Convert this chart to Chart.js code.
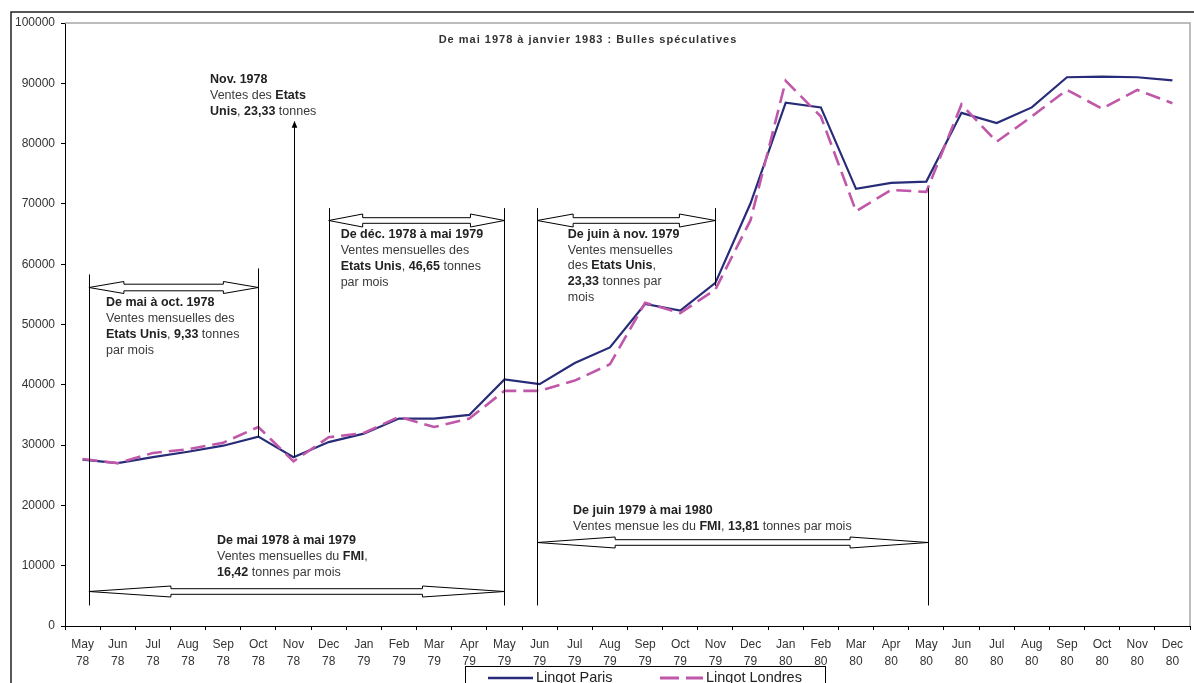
<!DOCTYPE html>
<html><head><meta charset="utf-8">
<script src="https://cdn.jsdelivr.net/npm/chart.js@4.4.1/dist/chart.umd.min.js"></script>
<style>html,body{margin:0;padding:0;background:#fff;}</style>
</head><body>
<canvas id="c" width="1194" height="683"></canvas>
<script>
// ---- data ----
const monthNames = ["May","Jun","Jul","Aug","Sep","Oct","Nov","Dec","Jan","Feb","Mar","Apr","May","Jun","Jul","Aug","Sep","Oct","Nov","Dec","Jan","Feb","Mar","Apr","May","Jun","Jul","Aug","Sep","Oct","Nov","Dec"];
const yearLabels = ["78","78","78","78","78","78","78","78","79","79","79","79","79","79","79","79","79","79","79","79","80","80","80","80","80","80","80","80","80","80","80","80"];
const parisValues = [27600,27000,28000,28900,29900,31400,28000,30500,31900,34400,34400,35000,40900,40100,43600,46200,53400,52300,56900,70100,86800,86000,72500,73500,73700,85100,83400,86000,91000,91100,91000,90500];
const londresValues = [27700,27000,28700,29300,30400,33000,27300,31300,32000,34700,33000,34400,39000,39000,40700,43400,53600,51900,55800,67300,90400,84500,68800,72300,72000,86500,80300,84500,88900,85800,88900,86700];
const seriesNames = ["Lingot Paris","Lingot Londres"];
const yMin = 0, yMax = 100000, yStep = 10000;
const chartTitle = "De mai 1978 à janvier 1983 : Bulles spéculatives";

const labels = monthNames.map((m,i)=>[m, yearLabels[i]]);

const FONT = "'Liberation Sans', Arial, sans-serif";
const TXT = '#333';
Chart.defaults.font.family = FONT;

// ---- annotations (category index, value units) ----
const vLines = [
  [0.18, 58300, 3400],
  [5, 59300, 31400],
  [7, 69300, 32100],
  [12, 69300, 3400],
  [12.93, 69300, 3400],
  [18, 69300, 56400],
  [24.05, 72600, 3400]
];
const blockArrows = [
  {a:0.18, b:5, v:56300, head:35, hh:6, sh:3.3},
  {a:7, b:12, v:67300, head:34, hh:6.5, sh:2.8},
  {a:12.93, b:18, v:67300, head:36, hh:6.5, sh:2.8},
  {a:0.18, b:12, v:5850, head:82, hh:5.5, sh:2.8},
  {a:12.93, b:24.05, v:13900, head:78, hh:5.5, sh:2.8}
];
const textBlocks = [
  {i:3.625, v:90550, lines:[[["Nov. 1978",1]],[["Ventes des ",0],["Etats",1]],[["Unis",1],[", ",0],["23,33",1],[" tonnes",0]]]},
  {i:0.666, v:53620, lines:[[["De mai à oct. 1978",1]],[["Ventes mensuelles des",0]],[["Etats Unis",1],[", ",0],["9,33",1],[" tonnes",0]],[["par mois",0]]]},
  {i:7.34, v:64840, lines:[[["De déc. 1978 à mai 1979",1]],[["Ventes mensuelles des",0]],[["Etats Unis",1],[", ",0],["46,65",1],[" tonnes",0]],[["par mois",0]]]},
  {i:13.80, v:64960, lines:[[["De juin à nov. 1979",1]],[["Ventes mensuelles",0]],[["des ",0],["Etats Unis",1],[",",0]],[["23,33",1],[" tonnes par",0]],[["mois",0]]]},
  {i:3.823, v:14100, lines:[[["De mai 1978 à mai 1979",1]],[["Ventes mensuelles du ",0],["FMI",1],[",",0]],[["16,42",1],[" tonnes par mois",0]]]},
  {i:13.95, v:19070, lines:[[["De juin 1979 à mai 1980",1]],[["Ventes mensue les du ",0],["FMI",1],[", ",0],["13,81",1],[" tonnes par mois",0]]]}
];

function drawBlockArrow(ctx, x1, x2, y, head, hh, sh){
  ctx.beginPath();
  ctx.moveTo(x1, y);
  ctx.lineTo(x1+head, y-hh);
  ctx.lineTo(x1+head, y-sh);
  ctx.lineTo(x2-head, y-sh);
  ctx.lineTo(x2-head, y-hh);
  ctx.lineTo(x2, y);
  ctx.lineTo(x2-head, y+hh);
  ctx.lineTo(x2-head, y+sh);
  ctx.lineTo(x1+head, y+sh);
  ctx.lineTo(x1+head, y+hh);
  ctx.closePath();
  ctx.fillStyle='#fff'; ctx.fill();
  ctx.strokeStyle='#000'; ctx.lineWidth=1; ctx.stroke();
}

const decor = {
  id:'decor',
  afterDraw(chart){
    const ctx = chart.ctx, xs = chart.scales.x, ys = chart.scales.y, ca = chart.chartArea;
    ctx.save();
    // plot area top/right border
    ctx.strokeStyle='#a6a6a6'; ctx.lineWidth=1.5;
    ctx.beginPath(); ctx.moveTo(ca.left, ca.top); ctx.lineTo(ca.right, ca.top); ctx.lineTo(ca.right, ca.bottom); ctx.stroke();
    // outer frame
    ctx.strokeStyle='#222'; ctx.lineWidth=1.5;
    ctx.beginPath(); ctx.moveTo(11, 700); ctx.lineTo(11, 12); ctx.lineTo(1200, 12); ctx.stroke();

    // vertical lines
    ctx.strokeStyle='#000'; ctx.lineWidth=1;
    vLines.forEach(([i,v1,v2])=>{
      const x = Math.round(xs.getPixelForValue(i))+0.5;
      ctx.beginPath(); ctx.moveTo(x, ys.getPixelForValue(v1)); ctx.lineTo(x, ys.getPixelForValue(v2)); ctx.stroke();
    });
    // Nov 78 arrow
    const xn = Math.round(xs.getPixelForValue(6))+0.5;
    const tip = ys.getPixelForValue(83800);
    ctx.beginPath(); ctx.moveTo(xn, ys.getPixelForValue(parisValues[6])); ctx.lineTo(xn, tip+4); ctx.stroke();
    ctx.fillStyle='#000';
    ctx.beginPath(); ctx.moveTo(xn, tip); ctx.lineTo(xn-2.8, tip+7); ctx.lineTo(xn+2.8, tip+7); ctx.closePath(); ctx.fill();

    // block arrows
    blockArrows.forEach(a=>{
      drawBlockArrow(ctx, xs.getPixelForValue(a.a), xs.getPixelForValue(a.b), Math.round(ys.getPixelForValue(a.v))+0.5, a.head, a.hh, a.sh);
    });

    // text blocks
    ctx.textBaseline='middle'; ctx.textAlign='left';
    textBlocks.forEach(tb=>{
      const x0 = xs.getPixelForValue(tb.i);
      let y = ys.getPixelForValue(tb.v);
      tb.lines.forEach(line=>{
        let x = x0;
        line.forEach(([t,b])=>{
          ctx.font = (b?'bold ':'') + '12.5px ' + FONT;
          ctx.fillStyle = b ? '#222' : '#3a3a3a';
          ctx.fillText(t, x, y);
          x += ctx.measureText(t).width;
        });
        y += 15.8;
      });
    });

    // title
    ctx.font = 'bold 11px ' + FONT; ctx.fillStyle='#333'; ctx.textAlign='left';
    if ('letterSpacing' in ctx) ctx.letterSpacing = '1px';
    const tw = ctx.measureText(chartTitle).width;
    ctx.fillText(chartTitle, 588 - tw/2, 39.5);
    if ('letterSpacing' in ctx) ctx.letterSpacing = '0px';

    // legend
    ctx.strokeStyle='#000'; ctx.lineWidth=1;
    ctx.strokeRect(465.5, 666.5, 360, 40);
    const ds = chart.data.datasets;
    ctx.lineWidth=2.5; ctx.strokeStyle=ds[0].borderColor;
    ctx.beginPath(); ctx.moveTo(488,678); ctx.lineTo(533,678); ctx.stroke();
    ctx.strokeStyle=ds[1].borderColor; ctx.lineWidth=3;
    ctx.beginPath(); ctx.moveTo(660,678); ctx.lineTo(679,678); ctx.moveTo(686,678); ctx.lineTo(703,678); ctx.stroke();
    ctx.font='14.5px '+FONT; ctx.fillStyle='#222'; ctx.textAlign='left'; ctx.textBaseline='middle';
    ctx.fillText(ds[0].label, 536, 677.5);
    ctx.fillText(ds[1].label, 706, 677.5);
    ctx.restore();
  }
};

new Chart(document.getElementById('c'), {
  type:'line',
  data:{
    labels: labels,
    datasets:[
      {label:seriesNames[0], data:parisValues, borderColor:'#282c78', borderWidth:2.2, pointRadius:0, tension:0, fill:false, order:2},
      {label:seriesNames[1], data:londresValues, borderColor:'#c058a9', borderWidth:2.6, borderDash:[15,7], pointRadius:0, tension:0, fill:false, order:1}
    ]
  },
  options:{
    responsive:false, animation:false, devicePixelRatio:1,
    layout:{padding:{left:0, top:23, right:4, bottom:0}},
    plugins:{legend:{display:false}, title:{display:false}, tooltip:{enabled:false}},
    scales:{
      x:{
        offset:true,
        afterFit(s){ s.height = 57; },
        grid:{offset:true, drawOnChartArea:false, drawTicks:true, tickLength:4, color:'#000'},
        border:{display:true, color:'#000', width:1},
        ticks:{autoSkip:false, maxRotation:0, minRotation:0, padding:6, color:TXT, font:{size:12, lineHeight:1.42}}
      },
      y:{
        min:yMin, max:yMax,
        afterFit(s){ s.width = 65; },
        grid:{drawOnChartArea:false, drawTicks:true, tickLength:4, color:'#000'},
        border:{display:true, color:'#000', width:1},
        ticks:{stepSize:yStep, padding:6, color:TXT, font:{size:12}, callback:v=>String(v)}
      }
    }
  },
  plugins:[decor]
});
</script>
</body></html>
